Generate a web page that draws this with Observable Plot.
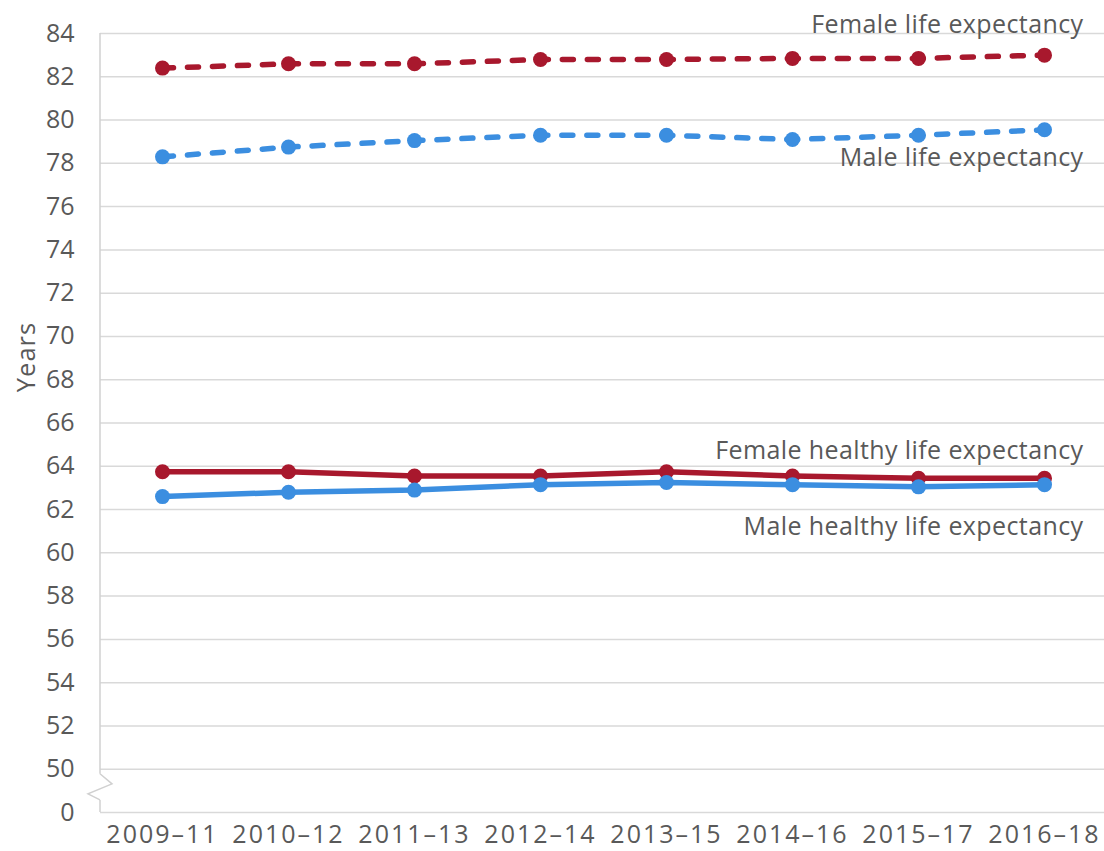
<!DOCTYPE html>
<html>
<head>
<meta charset="utf-8">
<script src="https://cdn.jsdelivr.net/npm/d3@7"></script>
<script src="https://cdn.jsdelivr.net/npm/@observablehq/plot@0.6"></script>
<style>
  html, body { margin: 0; padding: 0; background: #fff; }
  svg { font-family: "Open Sans", sans-serif; }
  g[aria-label="x-axis tick label"] text { letter-spacing: 2px; }
</style>
</head>
<body>
<div id="chart"></div>
<script>
const periods = ["2009–11", "2010–12", "2011–13", "2012–14", "2013–15", "2014–16", "2015–17", "2016–18"];
const femaleLE  = [82.4, 82.6, 82.6, 82.8, 82.8, 82.85, 82.85, 83.0];
const maleLE    = [78.3, 78.75, 79.05, 79.3, 79.3, 79.1, 79.3, 79.55];
const femaleHLE = [63.75, 63.75, 63.55, 63.55, 63.75, 63.55, 63.45, 63.45];
const maleHLE   = [62.6, 62.8, 62.9, 63.15, 63.25, 63.15, 63.05, 63.15];
const yTicks = [48, 50, 52, 54, 56, 58, 60, 62, 64, 66, 68, 70, 72, 74, 76, 78, 80, 82, 84];
const seriesNames = ["Female life expectancy", "Male life expectancy", "Female healthy life expectancy", "Male healthy life expectancy"];
const labelY = [84.4, 78.25, 64.7, 61.2];
const yTitle = "Years";

const red = "#a8182d", blue = "#3b8ee0";
const seriesStyle = [
  {values: femaleLE, color: red, dash: "11,14"},
  {values: maleLE, color: blue, dash: "11,14"},
  {values: femaleHLE, color: red, dash: null},
  {values: maleHLE, color: blue, dash: null}
];

const rows = [];
seriesStyle.forEach((s, i) => s.values.forEach((v, j) => rows.push({series: seriesNames[i], period: periods[j], value: v})));

const labels = seriesNames.map((name, i) => ({name, y: labelY[i], period: periods[periods.length - 1]}));

const brokenAxis = (index, scales, values, dims) => {
  const y = scales.y;
  const x0 = dims.marginLeft;
  const g = d3.create("svg:g");
  const stroke = "#d0d0d0";
  g.append("line").attr("x1", x0).attr("x2", x0).attr("y1", y(84)).attr("y2", y(49.77)).attr("stroke", stroke).attr("stroke-width", 1.5);
  g.append("line").attr("x1", x0).attr("x2", x0).attr("y1", y(48.56)).attr("y2", y(48)).attr("stroke", stroke).attr("stroke-width", 1.5);
  g.append("path")
    .attr("d", d3.line()([[x0, y(49.77)], [x0 + 12, y(49.3)], [x0 - 12, y(48.84)], [x0, y(48.56)]]))
    .attr("fill", "none").attr("stroke", stroke).attr("stroke-width", 1.5);
  return g.node();
};

const marks = [
  Plot.ruleY(yTicks, {stroke: "#d9d9d9", strokeWidth: 1.5}),
  brokenAxis,
  Plot.axisY({
    ticks: yTicks,
    tickSize: 0,
    tickPadding: 26,
    tickFormat: d => d === 48 ? "0" : String(d),
    fontSize: 25,
    fill: "#595959",
    label: null
  }),
  Plot.axisX({tickSize: 0, tickPadding: 13, fontSize: 25, fill: "#595959", label: null}),
  Plot.text([yTitle], {frameAnchor: "left", dx: -66, dy: -66, rotate: -90, textAnchor: "middle", lineAnchor: "bottom", fontSize: 25.5, fill: "#595959"})
];

seriesStyle.forEach((s, i) => {
  const data = rows.filter(r => r.series === seriesNames[i]);
  marks.push(Plot.line(data, {x: "period", y: "value", stroke: s.color, strokeWidth: 5.5, strokeDasharray: s.dash, strokeLinecap: "round"}));
  marks.push(Plot.dot(data, {x: "period", y: "value", r: 7.5, fill: s.color}));
});

marks.push(Plot.text(labels, {x: "period", y: "y", text: "name", textAnchor: "end", dx: 39, fontSize: 25, fill: "#595959"}));

const chart = Plot.plot({
  width: 1104,
  height: 851,
  marginLeft: 100,
  marginRight: 0,
  marginTop: 33,
  marginBottom: 39,
  style: {fontFamily: "'Open Sans', sans-serif", fontSize: "25px", color: "#595959", overflow: "visible"},
  x: {type: "band", domain: periods, range: [98, 1108], padding: 0},
  y: {type: "linear", domain: [48, 84]},
  marks
});
d3.select(chart).selectAll("text")
  .filter(function () { return seriesNames.includes(this.textContent); })
  .style("letter-spacing", "0.4px");
d3.select(chart).selectAll("text")
  .filter(function () { return this.textContent === yTitle; })
  .style("letter-spacing", "1px");
document.getElementById("chart").appendChild(chart);
</script>
</body>
</html>
